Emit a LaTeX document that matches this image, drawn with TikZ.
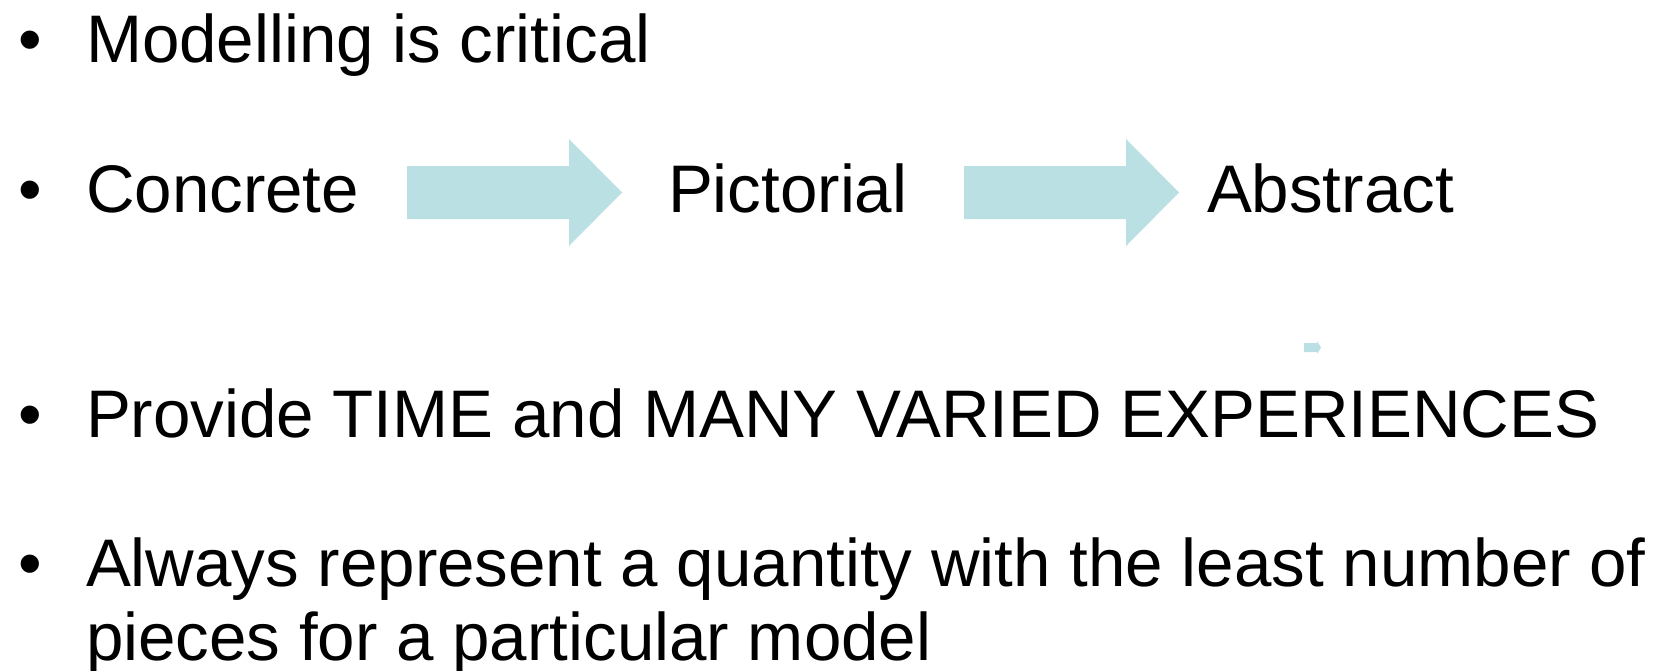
\documentclass[tikz,border=0pt]{standalone}
\usepackage{fontspec}
\setmainfont{Liberation Sans}
\definecolor{arrowblue}{RGB}{186,224,227}
\tikzset{
  txt/.style={anchor=base west, inner sep=0pt, outer sep=0pt, font=\fontsize{67.3bp}{74bp}\selectfont},
  bul/.style={anchor=base, inner sep=0pt, outer sep=0pt, font=\fontsize{67.3bp}{74bp}\selectfont},
  blockarrow/.style={fill=arrowblue, draw=none}
}
\begin{document}
\begin{tikzpicture}[x=1bp,y=-1bp]
\useasboundingbox[fill=white] (0,0) rectangle (1657,671);
% bullets
\node[bul] (b1) at (30,63) {•};
\node[bul] (b2) at (30,212) {•};
\node[bul] (b3) at (30,437) {•};
\node[bul] (b4) at (30,586) {•};
% texts
\node[txt] (t1) at (86,63) {Modelling is critical};
\node[txt] (conc) at (86,212) {Concrete};
\node[txt] (pict) at (668,212) {Pictorial};
\node[txt] (abst) at (1207,212) {Abstract};
\node[txt] (t3) at (86,437) {Provide TIME and MANY VARIED EXPERIENCES};
\node[txt] (t4a) at (86,586) {Always represent a quantity with the least number of};
\node[txt] (t4b) at (86,660) {pieces for a particular model};
% block arrows
\fill[blockarrow] (407,166) -- (569,166) -- (569,139) -- (622,192.5) -- (569,246) -- (569,219) -- (407,219) -- cycle;
\fill[blockarrow] (964,166) -- (1126,166) -- (1126,139) -- (1179,192.5) -- (1126,246) -- (1126,219) -- (964,219) -- cycle;
\fill[blockarrow] (1304,343) -- (1317,343) -- (1317,341) -- (1321,347.5) -- (1317,354) -- (1317,352) -- (1304,352) -- cycle;
\end{tikzpicture}
\end{document}
